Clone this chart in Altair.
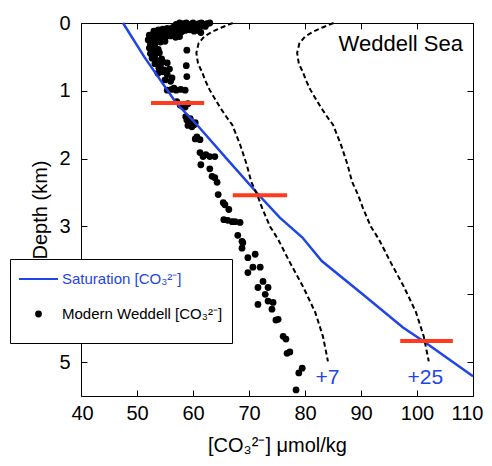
import altair as alt
import pandas as pd

FONT = "Liberation Sans"
BLUE = "#1f45e6"
RED = "#ff3b1f"

SAT = "Saturation [CO₃²⁻]"
MOD = "Modern Weddell [CO₃²⁻]"

# Modern Weddell Sea carbonate ion observations (umol/kg, km)
obs_co3 = [57.0, 57.6, 58.2, 58.8, 59.4, 60.0, 60.5, 61.0, 61.5, 62.0, 62.5, 63.0,
           58.0, 59.0, 60.2, 61.2, 62.2, 57.2, 58.5, 56.5, 59.6, 60.8, 61.8, 57.8,
           53.0, 53.8, 54.6, 55.4, 56.2, 57.0, 57.8, 58.6, 59.4, 60.2, 61.0, 61.4,
           54.0, 55.0, 56.0, 57.0, 58.0, 55.6, 53.4, 54.4,
           52.2, 52.9, 53.6, 54.4, 55.2, 56.0, 56.9, 57.6, 52.0, 52.6, 53.4, 54.2, 55.0,
           52.4, 53.2, 54.0, 52.8,
           58.9,
           52.2, 53.0, 53.8, 52.4, 53.2, 54.0, 52.7, 53.5, 54.4, 53.2, 54.2, 55.4,
           53.9, 54.8, 55.8, 53.0, 54.6,
           58.8, 58.9,
           53.75, 55.4, 56.25, 54.6, 55.0, 56.0,
           55.4, 56.2, 57.0, 57.8, 58.6, 56.6,
           57.1, 57.7, 58.6, 59.1, 58.2,
           58.7, 59.5, 58.9, 59.5, 60.4, 59.1, 59.8, 60.2,
           60.4, 61.25, 60.7,
           61.25, 61.8, 62.3, 63.0, 63.9,
           61.4,
           63.0, 63.4, 63.9, 64.3,
           64.5,
           65.4, 65.7, 66.4,
           65.5, 66.2, 67.0, 67.5, 68.4,
           68.0, 68.75, 68.9, 68.75,
           71.1, 69.8,
           70.7, 72.0, 69.8,
           72.5, 71.6, 73.4, 72.9, 73.4, 74.3, 71.6, 74.1,
           75.2, 74.8,
           76.1, 76.6,
           77.3, 76.8,
           79.5, 78.9,
           78.4]
obs_depth = [0.02, 0.0, 0.01, 0.0, 0.02, 0.0, 0.02, 0.01, 0.0, 0.02, 0.01, 0.0,
             0.05, 0.06, 0.05, 0.06, 0.05, 0.07, 0.09, 0.06, 0.03, 0.04, 0.03, 0.04,
             0.12, 0.10, 0.09, 0.08, 0.08, 0.09, 0.10, 0.11, 0.10, 0.12, 0.11, 0.14,
             0.15, 0.14, 0.13, 0.15, 0.13, 0.17, 0.15, 0.13,
             0.18, 0.20, 0.18, 0.22, 0.20, 0.19, 0.21, 0.20, 0.25, 0.28, 0.26, 0.28, 0.27,
             0.32, 0.31, 0.24, 0.23,
             0.40,
             0.37, 0.40, 0.39, 0.45, 0.47, 0.44, 0.52, 0.55, 0.53, 0.60, 0.62, 0.59,
             0.66, 0.69, 0.68, 0.49, 0.57,
             0.63, 0.79,
             0.74, 0.76, 0.81, 0.72, 0.84, 0.86,
             0.99, 0.98, 0.99, 0.98, 0.99, 0.96,
             1.16, 1.21, 1.24, 1.19, 1.23,
             1.38, 1.41, 1.43, 1.46, 1.47, 1.51, 1.53, 1.50,
             1.71, 1.72, 1.68,
             1.91, 1.97, 1.94, 1.97, 1.97,
             2.09,
             2.15, 2.26, 2.28, 2.35,
             2.53,
             2.65, 2.68, 2.75,
             2.90, 2.91, 2.93, 2.93, 2.94,
             3.13, 3.22, 3.24, 3.32,
             3.41, 3.46,
             3.60, 3.60, 3.68,
             3.81, 3.90, 3.90, 4.00, 4.10, 4.12, 4.15, 4.22,
             4.37, 4.38,
             4.62, 4.66,
             4.85, 4.87,
             5.09, 5.16,
             5.41]

# Saturation [CO3 2-] profile
sat_co3 = [47.5, 51.3, 57.0, 60.7, 66.0, 71.8, 75.5, 79.5, 83.0, 90.3, 97.5, 101.1, 110.0]
sat_depth = [0.0, 0.5, 1.18, 1.5, 2.0, 2.54, 2.87, 3.16, 3.51, 4.0, 4.49, 4.69, 5.21]

# Dashed profiles (+7 and +25)
curve_depth = [0.0, 0.07, 0.13, 0.2, 0.3, 0.44, 0.6, 0.72, 0.85, 0.99, 1.24, 1.4, 1.5,
               1.79, 2.09, 2.34, 2.54, 2.72, 3.0, 3.19, 3.53, 3.88, 4.26, 4.62, 4.99]
plus7_co3 = [67.1, 65.0, 63.4, 62.0, 61.0, 60.6, 60.9, 61.6, 62.2, 63.0, 64.8, 66.1, 67.0,
             68.4, 69.6, 70.4, 71.5, 72.3, 73.75, 75.2, 77.3, 79.6, 81.8, 83.2, 84.1]
plus25_co3 = [85.1, 83.0, 81.4, 80.0, 79.0, 78.6, 78.9, 79.6, 80.2, 81.0, 82.8, 84.1, 85.0,
              86.4, 87.6, 88.4, 89.5, 90.3, 91.75, 93.2, 95.3, 97.6, 99.8, 101.2, 102.1]

# Red bars
bar_depth = [1.18, 2.54, 4.69]
bar_lo = [52.5, 67.1, 97.0]
bar_hi = [62.0, 76.8, 106.4]

# Labels
curve_labels = ["+7", "+25"]
curve_label_x = [84.0, 101.5]
curve_label_y = [5.32, 5.32]
region_label = ["Weddell Sea"]
region_label_x = [108.2]
region_label_y = [0.41]

x_ticks = [40, 50, 60, 70, 80, 90, 100, 110]
y_ticks = [0, 1, 2, 3, 4, 5]

obs = pd.DataFrame({"co3": obs_co3, "depth": obs_depth, "series": MOD})
sat = pd.DataFrame({"co3": sat_co3, "depth": sat_depth})
curves = pd.concat([
    pd.DataFrame({"co3": plus7_co3, "depth": curve_depth, "curve": "+7"}),
    pd.DataFrame({"co3": plus25_co3, "depth": curve_depth, "curve": "+25"}),
])
bars = pd.DataFrame({"depth": bar_depth, "lo": bar_lo, "hi": bar_hi})
clabels = pd.DataFrame({"co3": curve_label_x, "depth": curve_label_y, "text": curve_labels})
rlabels = pd.DataFrame({"co3": region_label_x, "depth": region_label_y, "text": region_label})

xs = alt.Scale(domain=[40, 110], nice=False, zero=False)
ys = alt.Scale(domain=[0, 5.5], nice=False, zero=False, reverse=True)

def tick_axis(orient, values):
    return alt.Axis(orient=orient, offset=-6, values=values, tickSize=6, labels=False,
                    domain=False, title=None, grid=False, tickColor="black", tickWidth=1)

legend = alt.Legend(
    orient="none", legendX=-71, legendY=236,
    title=" ", titleOrient="bottom", titleFontSize=9, titlePadding=0,
    fillColor="white", strokeColor="black", padding=9,
    labelFont=FONT, labelFontSize=15, labelOffset=4, labelLimit=300,
    symbolOffset=0, clipHeight=22, rowPadding=13, symbolStrokeWidth=0,
    labelColor={"expr": f"indexof(datum.label, 'Saturation') >= 0 ? '{BLUE}' : 'black'"},
)

points = alt.Chart(obs).mark_point(filled=True, opacity=1).encode(
    x=alt.X("co3:Q", scale=xs, axis=alt.Axis(
        orient="bottom", values=x_ticks, ticks=False, tickSize=0, domain=False, grid=False,
        labelPadding=7, labelFlush=True, labelFlushOffset=10,
        title="[CO₃²⁻] μmol/kg", titlePadding=12)),
    y=alt.Y("depth:Q", scale=ys, axis=alt.Axis(
        orient="left", values=y_ticks, ticks=False, tickSize=0, domain=False, grid=False,
        labelPadding=11, labelFlush=False, format="d",
        labelExpr="datum.value == 4 ? '' : datum.label",
        title="Depth (km)", titlePadding=8)),
    color=alt.Color("series:N", scale=alt.Scale(domain=[SAT, MOD], range=[BLUE, "black"]),
                    legend=legend),
    shape=alt.Shape("series:N", scale=alt.Scale(domain=[SAT, MOD],
                    range=["M-1,-0.05H1V0.05H-1Z", "circle"]), legend=legend),
    size=alt.Size("series:N", scale=alt.Scale(domain=[SAT, MOD], range=[1521, 46]),
                  legend=legend),
)

sat_line = alt.Chart(sat).mark_line(color=BLUE, strokeWidth=2.5).encode(
    x=alt.X("co3:Q", scale=xs, axis=tick_axis("bottom", x_ticks)),
    y=alt.Y("depth:Q", scale=ys, axis=tick_axis("left", y_ticks)),
    order="depth:Q",
)

dashed = alt.Chart(curves).mark_line(color="black", strokeWidth=2, strokeDash=[5, 3]).encode(
    x=alt.X("co3:Q", scale=xs, axis=tick_axis("top", x_ticks)),
    y=alt.Y("depth:Q", scale=ys, axis=tick_axis("right", y_ticks)),
    detail="curve:N",
    order="depth:Q",
)

red_bars = alt.Chart(bars).mark_rule(color=RED, strokeWidth=4).encode(
    x=alt.X("lo:Q", scale=xs, axis=None),
    x2="hi:Q",
    y=alt.Y("depth:Q", scale=ys, axis=None),
)

curve_text = alt.Chart(clabels).mark_text(
    font=FONT, fontSize=21, color=BLUE, align="center", baseline="alphabetic").encode(
    x=alt.X("co3:Q", scale=xs, axis=None),
    y=alt.Y("depth:Q", scale=ys, axis=None),
    text="text:N",
)

region_text = alt.Chart(rlabels).mark_text(
    font=FONT, fontSize=22, color="black", align="right", baseline="alphabetic").encode(
    x=alt.X("co3:Q", scale=xs, axis=None),
    y=alt.Y("depth:Q", scale=ys, axis=None),
    text="text:N",
)

chart = alt.layer(points, sat_line, dashed, red_bars, curve_text, region_text).resolve_axis(
    x="independent", y="independent"
).properties(
    width=392, height=373,
    autosize=alt.AutoSizeParams(type="none"),
    padding={"left": 73, "top": 15, "right": 11, "bottom": 62},
).configure_view(
    stroke="black", strokeWidth=1
).configure_axis(
    labelFont=FONT, labelFontSize=20, labelColor="black",
    titleFont=FONT, titleFontSize=20, titleFontWeight="normal", titleColor="black",
)

chart.save("out.html", embed_options={"renderer": "svg", "actions": False})
